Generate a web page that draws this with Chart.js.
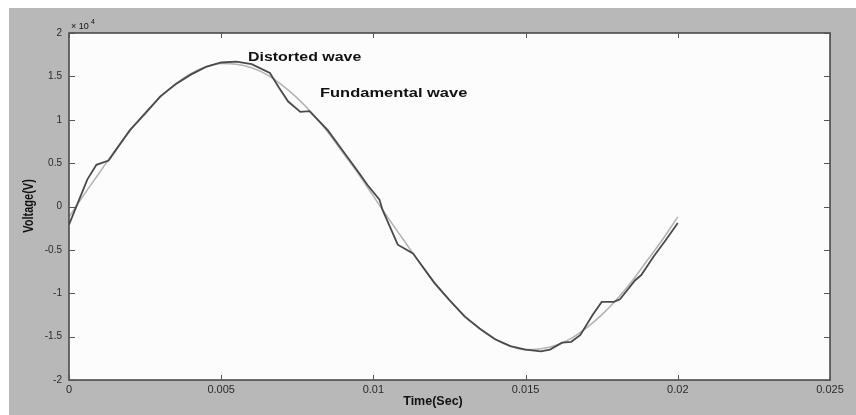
<!DOCTYPE html>
<html>
<head>
<meta charset="utf-8">
<script src="https://cdn.jsdelivr.net/npm/chart.js@4.4.1/dist/chart.umd.min.js"></script>
<style>
  html, body { margin: 0; padding: 0; background: #ffffff; }
  canvas { display: block; }
</style>
</head>
<body>
<canvas id="waveChart" width="856" height="415"></canvas>
<script>
// values (voltage in units of 10^4 V)
const fundTime = [
  0, 0.0005, 0.001, 0.0015, 0.002, 0.0025, 0.003, 0.0035, 0.004, 0.0045,
  0.005, 0.0055, 0.006, 0.0065, 0.007, 0.0075, 0.008, 0.0085, 0.009, 0.0095,
  0.01, 0.0105, 0.011, 0.0115, 0.012, 0.0125, 0.013, 0.0135, 0.014, 0.0145,
  0.015, 0.0155, 0.016, 0.0165, 0.017, 0.0175, 0.018, 0.0185, 0.019, 0.0195, 0.02
];
const fundVolt = [
  -0.12, 0.14, 0.39, 0.64, 0.87, 1.08, 1.26, 1.41, 1.53, 1.61,
  1.65, 1.64, 1.60, 1.52, 1.40, 1.25, 1.07, 0.86, 0.62, 0.38,
  0.12, -0.14, -0.39, -0.64, -0.87, -1.08, -1.26, -1.41, -1.53, -1.61,
  -1.65, -1.64, -1.60, -1.52, -1.40, -1.25, -1.07, -0.86, -0.62, -0.38, -0.12
];

const distTime = [
  0, 0.0006, 0.0009, 0.0013, 0.002, 0.0025, 0.003, 0.0035, 0.004, 0.0045,
  0.005, 0.0055, 0.006, 0.0066, 0.0069, 0.0072, 0.0076, 0.0079, 0.0085, 0.009,
  0.0095, 0.0098, 0.0102, 0.0103, 0.0108, 0.0113, 0.012, 0.0125, 0.013, 0.0135,
  0.014, 0.0145, 0.015, 0.0155, 0.0158, 0.0162, 0.0165, 0.0168, 0.0172, 0.0175,
  0.0179, 0.0181, 0.0186, 0.0188, 0.0192, 0.0196, 0.02
];
const distVolt = [
  -0.21, 0.31, 0.48, 0.53, 0.88, 1.07, 1.27, 1.41, 1.52, 1.61,
  1.66, 1.67, 1.64, 1.54, 1.37, 1.21, 1.09, 1.10, 0.88, 0.64,
  0.40, 0.25, 0.08, -0.04, -0.44, -0.54, -0.88, -1.08, -1.27, -1.41,
  -1.53, -1.61, -1.65, -1.67, -1.65, -1.57, -1.56, -1.48, -1.25, -1.10,
  -1.10, -1.07, -0.85, -0.79, -0.58, -0.39, -0.19
];

const xTicks = [0, 0.005, 0.01, 0.015, 0.02, 0.025];
const yTicks = [-2, -1.5, -1, -0.5, 0, 0.5, 1, 1.5, 2];

const toPoints = (xs, ys) => xs.map((x, i) => ({ x: x, y: ys[i] }));

// gray figure background, white axes box, inward tick marks, texts
const matlabFrame = {
  id: "matlabFrame",
  beforeDraw(chart) {
    const { ctx, chartArea: a } = chart;
    ctx.save();
    ctx.fillStyle = "#b8b8b8";
    ctx.fillRect(9, 8, chart.width - 9, chart.height - 8);
    ctx.fillStyle = "#fcfcfc";
    ctx.fillRect(a.left, a.top, a.right - a.left, a.bottom - a.top);
    ctx.restore();
  },
  afterDraw(chart) {
    const { ctx, chartArea: a, scales } = chart;
    ctx.save();
    // box
    ctx.strokeStyle = "#404040";
    ctx.lineWidth = 1.5;
    ctx.strokeRect(a.left, a.top, a.right - a.left, a.bottom - a.top);
    // ticks
    ctx.strokeStyle = "#555";
    ctx.lineWidth = 1;
    ctx.beginPath();
    xTicks.forEach((v) => {
      const px = Math.round(scales.x.getPixelForValue(v)) + 0.5;
      ctx.moveTo(px, a.bottom); ctx.lineTo(px, a.bottom - 5);
      ctx.moveTo(px, a.top); ctx.lineTo(px, a.top + 5);
    });
    yTicks.forEach((v) => {
      const py = Math.round(scales.y.getPixelForValue(v)) + 0.5;
      ctx.moveTo(a.left, py); ctx.lineTo(a.left + 6, py);
      ctx.moveTo(a.right, py); ctx.lineTo(a.right - 6, py);
    });
    ctx.stroke();

    ctx.fillStyle = "#111";
    ctx.textBaseline = "alphabetic";
    ctx.textAlign = "left";

    // x 10^4 exponent
    ctx.font = "9px 'Liberation Sans', Arial, sans-serif";
    ctx.fillText("\u00d7 10", 71, 29);
    ctx.font = "7px 'Liberation Sans', Arial, sans-serif";
    ctx.fillText("4", 91, 24);

    // in-plot labels (stretched like the original)
    ctx.font = "bold 13.5px 'Liberation Sans', Arial, sans-serif";
    ctx.save();
    ctx.translate(248, 61);
    ctx.scale(1.18, 1);
    ctx.fillText("Distorted wave", 0, 0);
    ctx.restore();
    ctx.save();
    ctx.translate(320, 97);
    ctx.scale(1.22, 1);
    ctx.fillText("Fundamental wave", 0, 0);
    ctx.restore();

    // axis titles
    ctx.textAlign = "center";
    ctx.font = "bold 12.5px 'Liberation Sans', Arial, sans-serif";
    ctx.fillText("Time(Sec)", 433, 405);
    ctx.save();
    ctx.translate(33, 206);
    ctx.rotate(-Math.PI / 2);
    ctx.scale(1, 1.3);
    ctx.font = "bold 11px 'Liberation Sans', Arial, sans-serif";
    ctx.fillText("Voltage(V)", 0, 0);
    ctx.restore();

    ctx.restore();
  },
};

new Chart(document.getElementById("waveChart"), {
  type: "line",
  data: {
    datasets: [
      {
        label: "Distorted wave",
        data: toPoints(distTime, distVolt),
        borderColor: "#4a4a4a",
        borderWidth: 1.8,
        pointRadius: 0,
        tension: 0,
        fill: false,
      },
      {
        label: "Fundamental wave",
        data: toPoints(fundTime, fundVolt),
        borderColor: "#b4b4b4",
        borderWidth: 1.6,
        pointRadius: 0,
        cubicInterpolationMode: "monotone",
        fill: false,
      },
    ],
  },
  options: {
    responsive: false,
    animation: false,
    devicePixelRatio: 1,
    layout: { padding: { left: 0, right: 26, top: 33, bottom: 0 } },
    plugins: {
      legend: { display: false },
      tooltip: { enabled: false },
    },
    scales: {
      x: {
        type: "linear",
        min: 0,
        max: 0.025,
        afterFit: (s) => { s.height = 35; },
        afterBuildTicks: (s) => { s.ticks = xTicks.map((v) => ({ value: v })); },
        grid: { display: false, drawTicks: false },
        border: { display: false },
        ticks: {
          padding: 3,
          color: "#2a2a2a",
          font: { family: "'Liberation Sans', Arial, sans-serif", size: 11 },
          maxRotation: 0,
          callback: (v) => String(+v.toFixed(3)),
        },
      },
      y: {
        type: "linear",
        min: -2,
        max: 2,
        afterFit: (s) => { s.width = 69; },
        afterBuildTicks: (s) => { s.ticks = yTicks.map((v) => ({ value: v })); },
        grid: { display: false, drawTicks: false },
        border: { display: false },
        ticks: {
          padding: 7,
          color: "#2a2a2a",
          font: { family: "'Liberation Sans', Arial, sans-serif", size: 10 },
          callback: (v) => String(v),
        },
      },
    },
  },
  plugins: [matlabFrame],
});
</script>
</body>
</html>
